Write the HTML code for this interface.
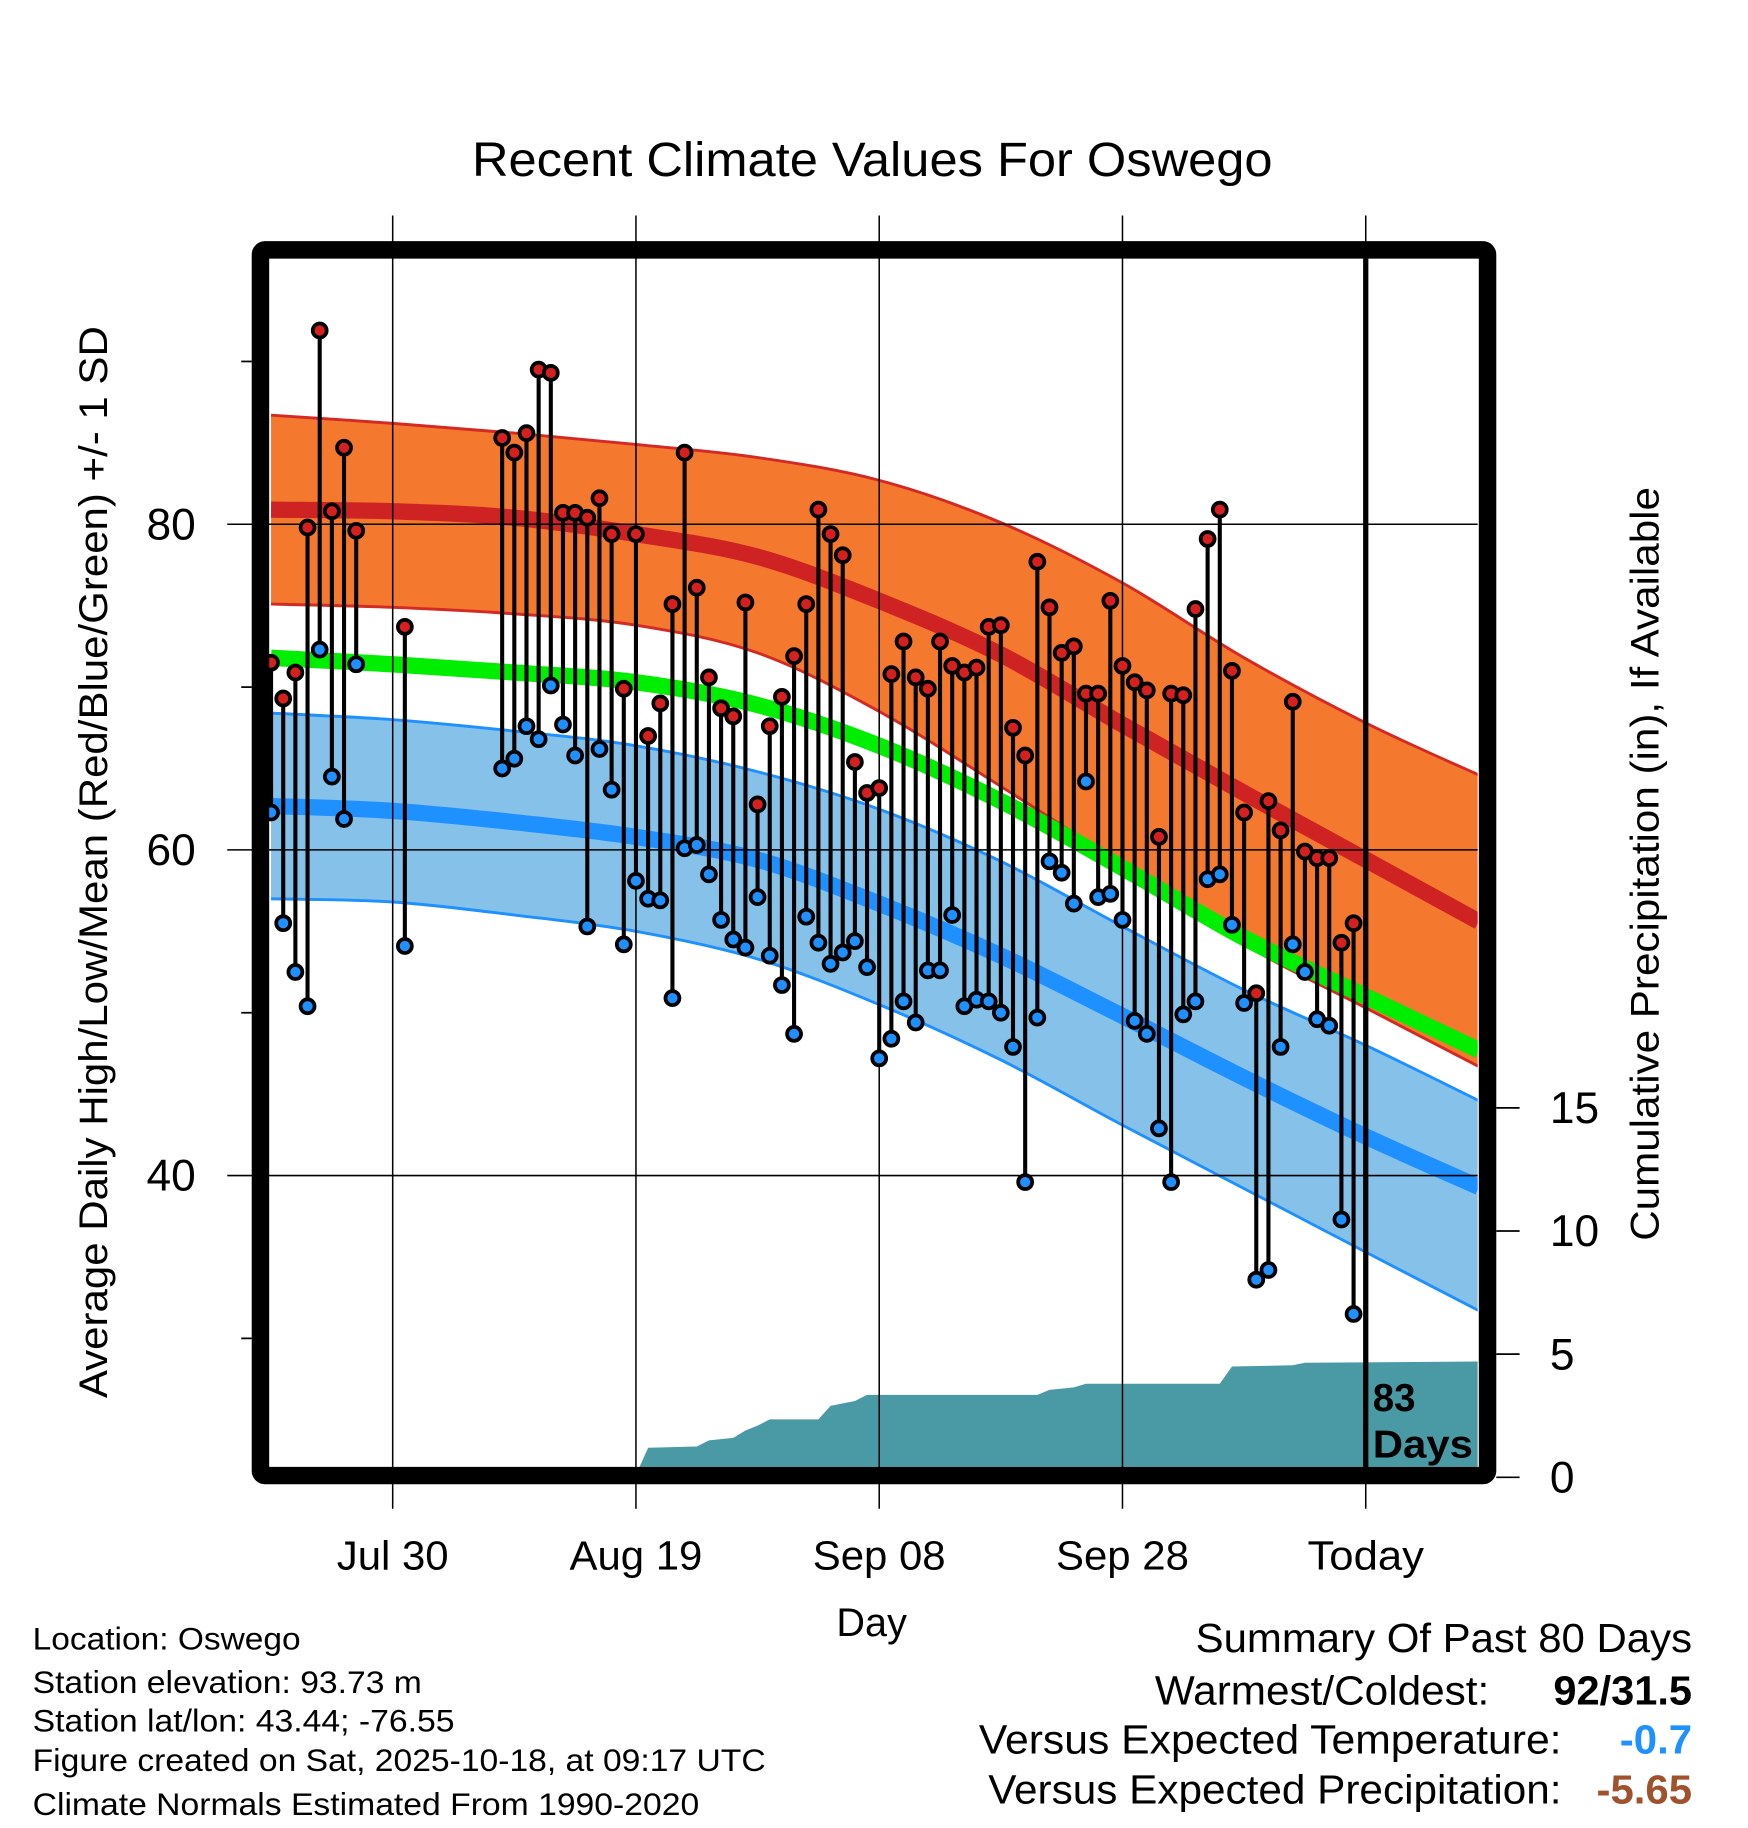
<!DOCTYPE html>
<html><head><meta charset="utf-8"><style>
html,body{margin:0;padding:0;background:#fff;}
svg{display:block;font-family:"Liberation Sans",Arial,sans-serif;}
</style></head><body>
<svg id="chart" width="1748" height="1828" viewBox="0 0 1500 1569" preserveAspectRatio="none" xmlns="http://www.w3.org/2000/svg">
<defs><clipPath id="plotclip"><rect x="231" y="222" width="1037" height="1037"/></clipPath></defs>
<rect width="1500" height="1569" fill="#fff"/>
<text x="405" y="151" font-size="41" textLength="687" lengthAdjust="spacingAndGlyphs">Recent Climate Values For Oswego</text>
<g id="plot" clip-path="url(#plotclip)"></g>
<g id="axes"></g>
<text transform="translate(92,1200) rotate(-90)" font-size="34" textLength="920" lengthAdjust="spacingAndGlyphs">Average Daily High/Low/Mean (Red/Blue/Green) +/- 1 SD</text>
<text transform="translate(1423,1065) rotate(-90)" font-size="34" textLength="647" lengthAdjust="spacingAndGlyphs">Cumulative Precipitation (in), If Available</text>
<text x="748" y="1404" font-size="34" text-anchor="middle">Day</text>
<g font-size="27">
<text x="28" y="1416" textLength="230" lengthAdjust="spacingAndGlyphs">Location: Oswego</text>
<text x="28" y="1453" textLength="334" lengthAdjust="spacingAndGlyphs">Station elevation: 93.73 m</text>
<text x="28" y="1486" textLength="362" lengthAdjust="spacingAndGlyphs">Station lat/lon: 43.44; -76.55</text>
<text x="28" y="1520" textLength="629" lengthAdjust="spacingAndGlyphs">Figure created on Sat, 2025-10-18, at 09:17 UTC</text>
<text x="28" y="1558" textLength="572" lengthAdjust="spacingAndGlyphs">Climate Normals Estimated From 1990-2020</text>
</g>
<g font-size="35">
<text x="1026" y="1418" textLength="426" lengthAdjust="spacingAndGlyphs">Summary Of Past 80 Days</text>
<text x="991" y="1463" textLength="287" lengthAdjust="spacingAndGlyphs">Warmest/Coldest:</text>
<text x="1333" y="1463" font-weight="bold" textLength="119" lengthAdjust="spacingAndGlyphs">92/31.5</text>
<text x="840" y="1505" textLength="500" lengthAdjust="spacingAndGlyphs">Versus Expected Temperature:</text>
<text x="1390" y="1505" font-weight="bold" fill="#1e90ff" textLength="62" lengthAdjust="spacingAndGlyphs">-0.7</text>
<text x="848" y="1548" textLength="492" lengthAdjust="spacingAndGlyphs">Versus Expected Precipitation:</text>
<text x="1370" y="1548" font-weight="bold" fill="#a0522d" textLength="82" lengthAdjust="spacingAndGlyphs">-5.65</text>
</g>
</svg>
<script>
// ---- data ----
const normDays = [0,10,20,30,40,50,60,70,80,90,99.3];
const highMean = [80.9,80.8,80.4,79.4,78.0,75.3,72.0,67.7,63.5,59.4,55.6];
const highUpper = [86.7,86.2,85.6,84.9,84.1,82.7,80.1,76.4,71.8,67.8,64.6];
const highLower = [75.1,74.9,74.5,73.8,72.1,68.5,63.9,59.1,54.2,50.3,46.7];
const meanTemp = [71.8,71.4,70.9,70.3,68.9,66.4,63.0,58.9,54.6,51.0,47.7];
const lowMean = [62.7,62.4,61.7,60.8,59.4,56.7,53.5,49.8,46.0,42.4,39.3];
const lowUpper = [68.4,68.0,67.3,66.4,64.8,62.5,59.3,55.3,51.4,48.0,44.6];
const lowLower = [57.0,56.8,56.0,55.0,53.3,50.5,47.1,43.1,39.2,35.3,31.7];
const highs = [71.5,69.3,70.9,79.8,91.9,80.8,84.7,79.6,null,null,null,73.7,null,null,null,null,null,null,null,
85.3,84.4,85.6,89.5,89.3,80.7,80.7,80.4,81.6,79.4,69.9,79.4,67.0,69.0,75.1,84.4,76.1,70.6,68.7,68.2,75.2,
62.8,67.6,69.4,71.9,75.1,80.9,79.4,78.1,65.4,63.5,63.8,70.8,72.8,70.6,69.9,72.8,71.3,70.9,71.2,73.7,
73.8,67.5,65.8,77.7,74.9,72.1,72.5,69.6,69.6,75.3,71.3,70.3,69.8,60.8,69.6,69.5,74.8,79.1,80.9,71.0,
62.3,51.2,63.0,61.2,69.1,59.9,59.5,59.5,54.3,55.5];
const lows = [62.3,55.5,52.5,50.4,72.3,64.5,61.9,71.4,null,null,null,54.1,null,null,null,null,null,null,null,
65.0,65.6,67.6,66.8,70.1,67.7,65.8,55.3,66.2,63.7,54.2,58.1,57.0,56.9,50.9,60.1,60.3,58.5,55.7,54.5,54.0,
57.1,53.5,51.7,48.7,55.9,54.3,53.0,53.7,54.4,52.8,47.2,48.4,50.7,49.4,52.6,52.6,56.0,50.4,50.8,50.7,
50.0,47.9,39.6,49.7,59.3,58.6,56.7,64.2,57.1,57.3,55.7,49.5,48.7,42.9,39.6,49.9,50.7,58.2,58.5,55.4,
50.6,33.6,34.2,47.9,54.2,52.5,49.6,49.2,37.3,31.5];
const precipDays = [0,7,11,30,31,35,36,38,39,40,41,45,46,48,49,63,64,66,67,78,79,84,85,99.3];
const precipVals = [0,0.05,0.1,0.1,1.2,1.25,1.5,1.6,1.9,2.1,2.35,2.35,2.9,3.1,3.35,3.35,3.55,3.65,3.8,3.8,4.5,4.55,4.65,4.7];
const tempTicks = [80,60,40];
const tempMinor = [90,70,50,30];
const precipTicks = [0,5,10,15];
const dateLabels = ["Jul 30","Aug 19","Sep 08","Sep 28","Today"];
const dateDays = [10,30,50,70,90];

// ---- scales ----
const xd = d => 232.6 + 10.4375*d;
const yT = t => 450 + (80 - t)*13.975;
const yP = p => 1268 - p*21.14;
const NS = "http://www.w3.org/2000/svg";
function mk(tag, attrs, parent){ const e=document.createElementNS(NS,tag); for(const k in attrs) e.setAttribute(k,attrs[k]); parent.appendChild(e); return e; }
const plot = document.getElementById('plot');
const axes = document.getElementById('axes');
function ptsOf(arr){ return normDays.map((d,i)=>[xd(d), yT(arr[i])]); }
function crPath(p, move){
  let s = (move?'M':'L')+p[0][0].toFixed(1)+','+p[0][1].toFixed(1);
  for(let i=0;i<p.length-1;i++){
    const p0=p[Math.max(0,i-1)], p1=p[i], p2=p[i+1], p3=p[Math.min(p.length-1,i+2)];
    const c1=[p1[0]+(p2[0]-p0[0])/6, p1[1]+(p2[1]-p0[1])/6];
    const c2=[p2[0]-(p3[0]-p1[0])/6, p2[1]-(p3[1]-p1[1])/6];
    s+=' C'+c1[0].toFixed(1)+','+c1[1].toFixed(1)+' '+c2[0].toFixed(1)+','+c2[1].toFixed(1)+' '+p2[0].toFixed(1)+','+p2[1].toFixed(1);
  }
  return s;
}

// precipitation area
let pp = 'M'+xd(0)+','+yP(0);
precipDays.forEach((d,i)=>{ pp += ' L'+xd(d).toFixed(1)+','+yP(precipVals[i]).toFixed(1); });
pp += ' L'+xd(99.3)+','+1270+' L'+xd(0)+',1270 Z';
const pa = mk('path',{d:pp,fill:'#4a9aa5'},plot);



// bands
function band(up,lo,fill,edge,name){
  const tp = ptsOf(up), bt = ptsOf(lo).reverse();
  const b = mk('path',{d:crPath(tp,true)+' '+crPath(bt,false)+' Z',fill:fill},plot);
  
  
  mk('path',{d:crPath(ptsOf(up),true),fill:'none',stroke:edge,'stroke-width':2.5},plot);
  mk('path',{d:crPath(ptsOf(lo),true),fill:'none',stroke:edge,'stroke-width':2.5},plot);
}
band(highUpper,highLower,'#f4782e','#d42a24','high-sd-band');
band(lowUpper,lowLower,'#85c1e8','#1e90ff','low-sd-band');
function mline(arr,color,w,name){
  const l = mk('path',{d:crPath(ptsOf(arr),true),fill:'none',stroke:color,'stroke-width':w},plot);
  
  
}
mline(meanTemp,'#00ee00',14,'mean-normal-line');
mline(highMean,'#cf2222',14,'high-normal-line');
mline(lowMean,'#1e90ff',14,'low-normal-line');

// gridlines
tempTicks.forEach(t=>{ mk('line',{x1:195,x2:1268,y1:yT(t),y2:yT(t),stroke:'#000','stroke-width':1.3},axes); });
dateDays.forEach(d=>{ mk('line',{x1:xd(d),x2:xd(d),y1:185,y2:1295,stroke:'#000','stroke-width':1.3},axes); });

// stems and points
const ptsG = mk('g',{},axes);
highs.forEach((h,i)=>{
  const l = lows[i]; if(h==null||l==null) return;
  const s = mk('line',{x1:xd(i),x2:xd(i),y1:yT(h),y2:yT(l),stroke:'#000','stroke-width':3.5},ptsG);
  
  
});
highs.forEach((h,i)=>{
  const l = lows[i]; if(h==null||l==null) return;
  const c1 = mk('circle',{cx:xd(i),cy:yT(h),r:6,fill:'#d62020',stroke:'#000','stroke-width':3.2},ptsG);
  
  
  const c2 = mk('circle',{cx:xd(i),cy:yT(l),r:6,fill:'#1e90ff',stroke:'#000','stroke-width':3.2},ptsG);
  
  
});

// today line
const tl = mk('line',{x1:xd(90),x2:xd(90),y1:222,y2:1262,stroke:'#000','stroke-width':4.5},axes);


const dt = mk('text',{x:1178,y:1211,'font-size':33,'font-weight':'bold'},axes); dt.textContent='83';


const dt2 = mk('text',{x:1178,y:1251,'font-size':33,'font-weight':'bold','textLength':86,'lengthAdjust':'spacingAndGlyphs'},axes); dt2.textContent='Days';



// frame
const fr = mk('rect',{x:223.5,y:214.5,width:1053,height:1052,fill:'none',stroke:'#000','stroke-width':15,rx:4},axes);



// left ticks
tempTicks.forEach(t=>{
  const tx = mk('text',{x:168,y:yT(t)+13,'font-size':38,'text-anchor':'end'},axes); tx.textContent=t;
  
  
});
tempMinor.forEach(t=>{ mk('line',{x1:207,x2:216,y1:yT(t),y2:yT(t),stroke:'#000','stroke-width':1.5},axes); });
// right ticks
precipTicks.forEach(p=>{
  mk('line',{x1:1284,x2:1304,y1:yP(p),y2:yP(p),stroke:'#000','stroke-width':1.5},axes);
  const tx = mk('text',{x:1330,y:yP(p)+13,'font-size':38},axes); tx.textContent=p;
  
  
});
// x labels
const xlw = [96,114,114,114,100];
dateDays.forEach((d,i)=>{
  const tx = mk('text',{x:xd(d),y:1347,'font-size':35,'text-anchor':'middle','textLength':xlw[i],'lengthAdjust':'spacingAndGlyphs'},axes); tx.textContent=dateLabels[i];
  
  
});
</script>
</body></html>
